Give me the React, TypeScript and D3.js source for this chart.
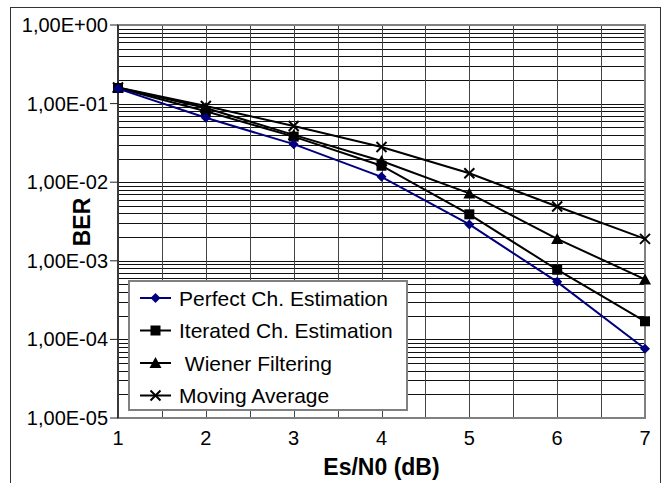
import React, { useRef, useEffect } from 'react';
import * as d3 from 'd3';

// Es/N0 in dB
const esn0 = [1, 2, 3, 4, 5, 6, 7];
// BER per estimation method
const perfect = [0.155, 0.066, 0.0305, 0.0117, 0.0029, 0.00054, 0.000076];
const iterated = [0.158, 0.08, 0.038, 0.0162, 0.0039, 0.00077, 0.00017];
const wiener = [0.16, 0.088, 0.04, 0.0186, 0.0072, 0.0019, 0.00058];
const movingAvg = [0.16, 0.093, 0.052, 0.028, 0.013, 0.0049, 0.0019];

const seriesNames = ['Perfect Ch. Estimation', 'Iterated Ch. Estimation', ' Wiener Filtering', 'Moving Average'];
const yTickValues = [1, 1e-1, 1e-2, 1e-3, 1e-4, 1e-5];
const yTickLabels = ['1,00E+00', '1,00E-01', '1,00E-02', '1,00E-03', '1,00E-04', '1,00E-05'];
const xTickLabels = ['1', '2', '3', '4', '5', '6', '7'];

const FONT = '"Liberation Sans", Arial, sans-serif';

export default function App() {
  const svgRef = useRef<SVGSVGElement>(null);

  useEffect(() => {
    const W = 663, H = 483;
    const svg = d3.select(svgRef.current).attr('width', W).attr('height', H);
    svg.selectAll('*').remove();

    const x = d3.scaleLinear().domain([1, 7]).range([118, 645]);
    const y = d3.scaleLog().domain([1e-5, 1]).range([418, 25]);

    // outer frame
    svg.append('rect')
      .attr('x', 10.5).attr('y', 7.5).attr('width', 650).attr('height', 490)
      .attr('fill', 'white').attr('stroke', '#333').attr('stroke-width', 1);

    const g = svg.append('g');

    // horizontal grid (log minors)
    g.selectAll('.hg')
      .data(y.ticks())
      .join('line')
      .attr('x1', x(1)).attr('x2', x(7))
      .attr('y1', d => Math.round(y(d)) + 0.5).attr('y2', d => Math.round(y(d)) + 0.5)
      .attr('stroke', '#111').attr('stroke-width', 1);

    // vertical grid
    g.selectAll('.vg')
      .data(d3.range(1.5, 7, 0.5))
      .join('line')
      .attr('x1', d => Math.round(x(d)) + 0.5).attr('x2', d => Math.round(x(d)) + 0.5)
      .attr('y1', y(1)).attr('y2', y(1e-5))
      .attr('stroke', '#444').attr('stroke-width', 1);

    // plot border
    g.append('rect')
      .attr('x', x(1)).attr('y', y(1)).attr('width', x(7) - x(1)).attr('height', y(1e-5) - y(1))
      .attr('fill', 'none').attr('stroke', '#808080').attr('stroke-width', 2);
    g.append('line')
      .attr('x1', x(1)).attr('x2', x(1)).attr('y1', y(1)).attr('y2', y(1e-5))
      .attr('stroke', '#222').attr('stroke-width', 1.5);

    // y axis ticks + labels
    g.selectAll('.yt')
      .data(yTickValues)
      .join('line')
      .attr('x1', x(1) - 8).attr('x2', x(1))
      .attr('y1', d => y(d)).attr('y2', d => y(d))
      .attr('stroke', '#222').attr('stroke-width', 1);
    g.selectAll('.yl')
      .data(yTickValues)
      .join('text')
      .attr('x', 108).attr('y', d => y(d) + 7)
      .attr('text-anchor', 'end')
      .attr('font-family', FONT).attr('font-size', 20)
      .text((d, i) => yTickLabels[i]);

    // x labels
    g.selectAll('.xl')
      .data(esn0)
      .join('text')
      .attr('x', d => x(d)).attr('y', 445)
      .attr('text-anchor', 'middle')
      .attr('font-family', FONT).attr('font-size', 20)
      .text((d, i) => xTickLabels[i]);

    // axis titles
    svg.append('text')
      .attr('x', (x(1) + x(7)) / 2).attr('y', 475)
      .attr('text-anchor', 'middle')
      .attr('font-family', FONT).attr('font-size', 23).attr('font-weight', 'bold')
      .text('Es/N0 (dB)');
    svg.append('text')
      .attr('transform', 'translate(90,222) rotate(-90)')
      .attr('text-anchor', 'middle')
      .attr('font-family', FONT).attr('font-size', 23).attr('font-weight', 'bold')
      .text('BER');

    const allSeries = [perfect, iterated, wiener, movingAvg];
    const colors = ['#000080', '#000', '#000', '#000'];
    const shapes = ['diamond', 'square', 'triangle', 'x'];

    const drawMarker = (sel: any, shape: string, cx: number, cy: number, color: string) => {
      if (shape === 'diamond') {
        sel.append('path').attr('d', `M${cx},${cy - 5}L${cx + 5},${cy}L${cx},${cy + 5}L${cx - 5},${cy}Z`).attr('fill', color);
      } else if (shape === 'square') {
        sel.append('rect').attr('x', cx - 5).attr('y', cy - 5).attr('width', 10).attr('height', 10).attr('fill', color);
      } else if (shape === 'triangle') {
        sel.append('path').attr('d', `M${cx},${cy - 6}L${cx + 6},${cy + 5}L${cx - 6},${cy + 5}Z`).attr('fill', color);
      } else {
        sel.append('path').attr('d', `M${cx - 5},${cy - 5}L${cx + 5},${cy + 5}M${cx - 5},${cy + 5}L${cx + 5},${cy - 5}`)
          .attr('stroke', color).attr('stroke-width', 2);
      }
    };

    const line = d3.line<number>().x((d, i) => x(esn0[i])).y(d => y(d));
    // draw back to front so the blue line sits on top
    [3, 2, 1, 0].forEach(k => {
      g.append('path')
        .attr('d', line(allSeries[k]))
        .attr('fill', 'none').attr('stroke', colors[k]).attr('stroke-width', 2);
      allSeries[k].forEach((v, i) => drawMarker(g, shapes[k], x(esn0[i]), y(v), colors[k]));
    });

    // legend
    const lg = svg.append('g');
    lg.append('rect')
      .attr('x', 129).attr('y', 281).attr('width', 278).attr('height', 129)
      .attr('fill', 'white').attr('stroke', '#808080').attr('stroke-width', 2);
    seriesNames.forEach((name, k) => {
      const cy = 298 + k * 32.5;
      lg.append('line').attr('x1', 140).attr('x2', 171).attr('y1', cy).attr('y2', cy)
        .attr('stroke', colors[k]).attr('stroke-width', 2);
      drawMarker(lg, shapes[k], 155.5, cy, colors[k]);
      lg.append('text')
        .attr('x', 179).attr('y', cy + 7.5)
        .attr('font-family', FONT).attr('font-size', 21)
        .attr('xml:space', 'preserve')
        .text(name);
    });
  }, []);

  return (
    <div style={{ position: 'absolute', left: 0, top: 0 }}>
      <svg ref={svgRef}></svg>
    </div>
  );
}
